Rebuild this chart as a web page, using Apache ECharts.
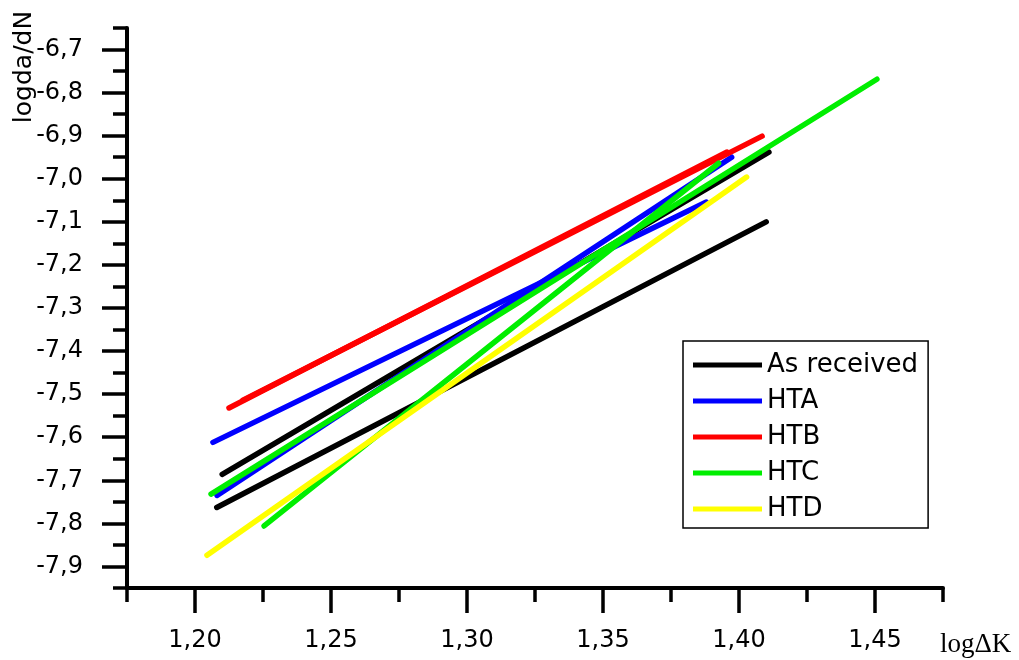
<!DOCTYPE html>
<html><head><meta charset="utf-8">
<script src="https://cdn.jsdelivr.net/npm/echarts@6/dist/echarts.min.js"></script>
<style>html,body{margin:0;padding:0;background:#fff}#c{width:1019px;height:660px}</style>
</head><body><div id="c"></div>
<script>
// ---- data ----
const seriesNames = ['As received', 'HTA', 'HTB', 'HTC', 'HTD'];
const asReceivedA = [[1.208, -7.763], [1.410, -7.100]];
const asReceivedB = [[1.210, -7.686], [1.411, -6.938]];
const htaA = [[1.2066, -7.612], [1.388, -7.054]];
const htaB = [[1.2081, -7.735], [1.3973, -6.950]];
const htbA = [[1.2125, -7.532], [1.3956, -6.938]];
const htbB = [[1.2176, -7.514], [1.4085, -6.901]];
const htcA = [[1.2059, -7.732], [1.4507, -6.769]];
const htcB = [[1.2254, -7.806], [1.3925, -6.964]];
const htdA = [[1.2044, -7.874], [1.4028, -6.996]];
const xMajorTicks = [1.20, 1.25, 1.30, 1.35, 1.40, 1.45];
const yMajorTicks = [-7.9, -7.8, -7.7, -7.6, -7.5, -7.4, -7.3, -7.2, -7.1, -7.0, -6.9, -6.8, -6.7];
const xRange = [1.175, 1.475];
const yRange = [-7.95, -6.65];

// ---- styles ----
const colors = ['#000000', '#0000ff', '#ff0000', '#00ee00', '#ffff00'];
const segments = [
  [0, asReceivedA], [0, asReceivedB],
  [1, htaA], [1, htaB],
  [2, htbA], [2, htbB],
  [3, htcA], [3, htcB],
  [4, htdA]
];
const W = 1019, H = 660;
const L = 127, R = 943, T = 28, B = 588;
const kx = (R - L) / (xRange[1] - xRange[0]);
const ky = (B - T) / (yRange[1] - yRange[0]);
const xMajMin = xMajorTicks[0], xMajMax = xMajorTicks[xMajorTicks.length - 1];
const yMajMin = yMajorTicks[0], yMajMax = yMajorTicks[yMajorTicks.length - 1];
const g2Left = L + (xMajMin - xRange[0]) * kx;
const g2Right = L + (xMajMax - xRange[0]) * kx;
const g2Top = T + (yRange[1] - yMajMax) * ky;
const g2Bottom = T + (yRange[1] - yMajMin) * ky;
const FONT = 'DejaVu Sans';
const axisCol = '#000';

const chart = echarts.init(document.getElementById('c'), null, {renderer: 'canvas'});
chart.setOption({
  animation: false,
  backgroundColor: '#fff',
  grid: [
    {left: L, right: W - R, top: T, bottom: H - B, containLabel: false},
    {left: g2Left, right: W - g2Right, top: g2Top, bottom: H - g2Bottom, containLabel: false}
  ],
  xAxis: [
    {type: 'value', gridIndex: 0, min: xRange[0], max: xRange[1], interval: 0.025,
     axisLine: {show: true, onZero: false, lineStyle: {color: axisCol, width: 4}},
     axisTick: {show: true, inside: false, length: 14, lineStyle: {color: axisCol, width: 3.5}},
     axisLabel: {show: false}, splitLine: {show: false}},
    {type: 'value', gridIndex: 1, min: xMajMin, max: xMajMax, interval: 0.05,
     offset: B - g2Bottom,
     axisLine: {show: false, onZero: false},
     axisTick: {show: true, inside: false, length: 25, lineStyle: {color: axisCol, width: 3.5}},
     axisLabel: {show: true, margin: 41, color: '#000', fontFamily: FONT, fontSize: 24,
       formatter: v => v.toFixed(2).replace('.', ',')},
     splitLine: {show: false}}
  ],
  yAxis: [
    {type: 'value', gridIndex: 0, min: yRange[0], max: yRange[1], interval: 0.05,
     axisLine: {show: true, onZero: false, lineStyle: {color: axisCol, width: 4}},
     axisTick: {show: true, inside: false, length: 14, lineStyle: {color: axisCol, width: 3.5}},
     axisLabel: {show: false}, splitLine: {show: false}},
    {type: 'value', gridIndex: 1, min: yMajMin, max: yMajMax, interval: 0.1,
     offset: g2Left - L,
     axisLine: {show: false, onZero: false},
     axisTick: {show: true, inside: false, length: 25, lineStyle: {color: axisCol, width: 3.5}},
     axisLabel: {show: true, margin: 44, color: '#000', fontFamily: FONT, fontSize: 24,
       formatter: v => v.toFixed(1).replace('.', ',')},
     splitLine: {show: false}}
  ],
  legend: {
    data: seriesNames, orient: 'vertical', left: 683, top: 341,
    padding: [11, 10, 6, 10], itemGap: 10, itemWidth: 69, itemHeight: 5, icon: 'rect',
    borderColor: '#000', borderWidth: 1.5, backgroundColor: '#fff',
    textStyle: {color: '#000', fontFamily: FONT, fontSize: 26},
    selectedMode: false
  },
  graphic: [
    {type: 'text', x: 24, y: 67, rotation: Math.PI / 2,
     style: {text: 'logda/dN', font: '25px "DejaVu Sans"', fill: '#000', align: 'center', verticalAlign: 'middle'}},
    {type: 'text', x: 940, y: 645,
     style: {text: 'logΔK', font: '27px "Liberation Serif"', fill: '#000', align: 'left', verticalAlign: 'middle'}}
  ],
  series: segments.map(([ci, d]) => ({
    type: 'line', name: seriesNames[ci], xAxisIndex: 0, yAxisIndex: 0,
    data: d, symbol: 'none', silent: true,
    itemStyle: {color: colors[ci]},
    lineStyle: {color: colors[ci], width: 5.5, cap: 'round'}
  }))
});
</script></body></html>
